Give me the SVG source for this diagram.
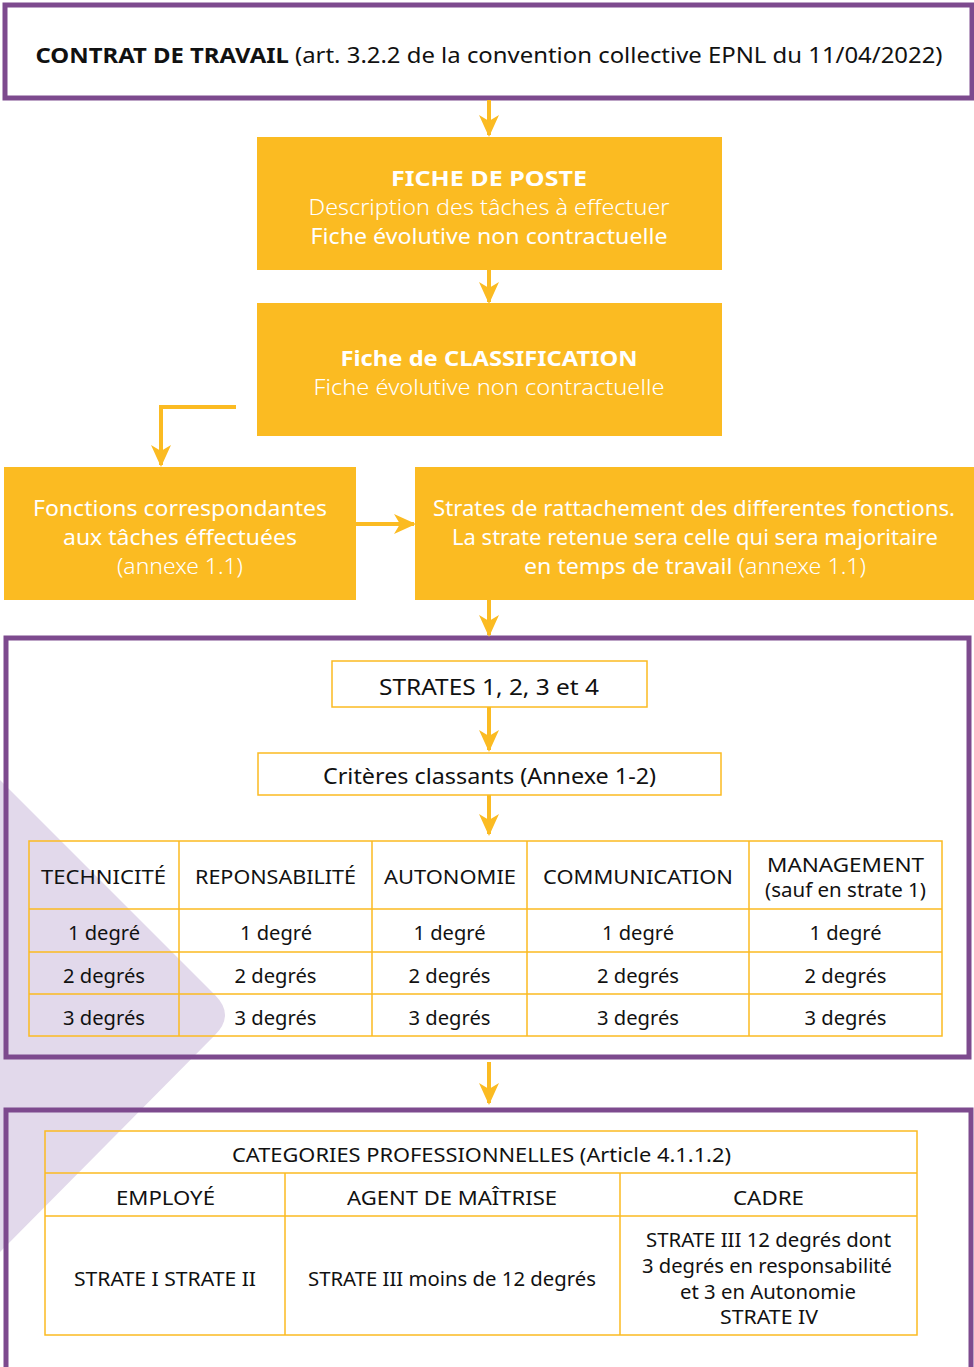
<svg xmlns="http://www.w3.org/2000/svg" width="974" height="1367" viewBox="0 0 974 1367">
<style>
text{font-family:"Noto Sans","Open Sans","Liberation Sans",sans-serif;}
.frame{fill:none;stroke:#7d4a8e;stroke-width:5}
.ob{fill:#fbbb22}
.wt{fill:#fff;font-size:22px;text-anchor:middle}
.b{font-weight:700}
.l{font-weight:300}
.box{fill:#fff;stroke:#fbbb22;stroke-width:1.5}
.cell{fill:none;stroke:#fbbb22;stroke-width:1.5}
.bt{fill:#111;font-size:21.5px;text-anchor:middle}
.tt{fill:#111;font-size:20px;text-anchor:middle}
.con{fill:none;stroke:#fbbb22;stroke-width:4}
</style>
<defs>
<marker id="ah2" markerWidth="22" markerHeight="20" refX="20" refY="10" orient="auto" markerUnits="userSpaceOnUse" viewBox="0 0 22 20">
<path d="M0,0 L22,10 L0,20 L6,10 z" fill="#fbbb22"/>
</marker>
</defs>
<rect width="974" height="1367" fill="#fff"/>
<path id="bgshape" d="M0,780 L215,995 Q235,1015 215,1035 L0,1252 z" fill="#e2d9eb"/>

<g id="n-contrat">
<rect class="frame" x="5" y="5" width="967" height="93"/>
<text x="489" y="63" fill="#111" font-size="22" text-anchor="middle" textLength="907" lengthAdjust="spacingAndGlyphs"><tspan class="b">CONTRAT DE TRAVAIL</tspan> (art. 3.2.2 de la convention collective EPNL du 11/04/2022)</text>
</g>

<g id="n-fiche-poste">
<rect class="ob" x="257" y="137" width="465" height="133"/>
<text class="wt b" x="489" y="186" textLength="196" lengthAdjust="spacingAndGlyphs">FICHE DE POSTE</text>
<text class="wt l" x="489" y="215" textLength="361" lengthAdjust="spacingAndGlyphs">Description des tâches à effectuer</text>
<text class="wt" x="489" y="244" textLength="357" lengthAdjust="spacingAndGlyphs">Fiche évolutive non contractuelle</text>
</g>

<g id="n-classification">
<rect class="ob" x="257" y="303" width="465" height="133"/>
<text class="wt b" x="489" y="366" textLength="297" lengthAdjust="spacingAndGlyphs">Fiche de CLASSIFICATION</text>
<text class="wt l" x="489" y="395" textLength="351" lengthAdjust="spacingAndGlyphs">Fiche évolutive non contractuelle</text>
</g>

<g id="n-fonctions">
<rect class="ob" x="4" y="467" width="352" height="133"/>
<text class="wt" x="180" y="516" textLength="294" lengthAdjust="spacingAndGlyphs">Fonctions correspondantes</text>
<text class="wt" x="180" y="545" textLength="234" lengthAdjust="spacingAndGlyphs">aux tâches éffectuées</text>
<text class="wt l" x="180" y="574" textLength="126" lengthAdjust="spacingAndGlyphs">(annexe 1.1)</text>
</g>

<g id="n-strates-rattachement">
<rect class="ob" x="415" y="467" width="559" height="133"/>
<text class="wt" x="694" y="516" textLength="522" lengthAdjust="spacingAndGlyphs">Strates de rattachement des differentes fonctions.</text>
<text class="wt" x="695" y="545" textLength="486" lengthAdjust="spacingAndGlyphs">La strate retenue sera celle qui sera majoritaire</text>
<text class="wt" x="695" y="574" textLength="342" lengthAdjust="spacingAndGlyphs">en temps de travail <tspan class="l">(annexe 1.1)</tspan></text>
</g>

<g id="n-criteres-frame">
<rect class="frame" x="6" y="638" width="963" height="419"/>
</g>

<g id="n-strates">
<rect class="box" x="332" y="661" width="315" height="46"/>
<text class="bt" x="489" y="695" textLength="220" lengthAdjust="spacingAndGlyphs">STRATES 1, 2, 3 et 4</text>
</g>

<g id="n-criteres">
<rect class="box" x="258" y="753" width="463" height="42"/>
<text class="bt" x="489.5" y="784" textLength="333" lengthAdjust="spacingAndGlyphs">Critères classants (Annexe 1-2)</text>
</g>

<g id="n-table-criteres">
<rect class="cell" x="29" y="841" width="913" height="195"/>
<path class="cell" d="M29,909 H942 M29,952 H942 M29,994 H942 M179,841 V1036 M372,841 V1036 M527,841 V1036 M749,841 V1036"/>
<g class="tt">
<text x="103.5" y="884" textLength="125" lengthAdjust="spacingAndGlyphs">TECHNICITÉ</text>
<text x="275.5" y="884" textLength="161" lengthAdjust="spacingAndGlyphs">REPONSABILITÉ</text>
<text x="450" y="884" textLength="132" lengthAdjust="spacingAndGlyphs">AUTONOMIE</text>
<text x="638" y="884" textLength="190" lengthAdjust="spacingAndGlyphs">COMMUNICATION</text>
<text x="845.5" y="872" textLength="157" lengthAdjust="spacingAndGlyphs">MANAGEMENT</text>
<text x="845.5" y="897" textLength="161" lengthAdjust="spacingAndGlyphs">(sauf en strate 1)</text>
<text x="104" y="940" textLength="72" lengthAdjust="spacingAndGlyphs">1 degré</text>
<text x="276" y="940" textLength="72" lengthAdjust="spacingAndGlyphs">1 degré</text>
<text x="449.5" y="940" textLength="72" lengthAdjust="spacingAndGlyphs">1 degré</text>
<text x="638" y="940" textLength="72" lengthAdjust="spacingAndGlyphs">1 degré</text>
<text x="845.5" y="940" textLength="72" lengthAdjust="spacingAndGlyphs">1 degré</text>
<text x="104" y="983" textLength="82" lengthAdjust="spacingAndGlyphs">2 degrés</text>
<text x="275.5" y="983" textLength="82" lengthAdjust="spacingAndGlyphs">2 degrés</text>
<text x="449.5" y="983" textLength="82" lengthAdjust="spacingAndGlyphs">2 degrés</text>
<text x="638" y="983" textLength="82" lengthAdjust="spacingAndGlyphs">2 degrés</text>
<text x="845.5" y="983" textLength="82" lengthAdjust="spacingAndGlyphs">2 degrés</text>
<text x="104" y="1025" textLength="82" lengthAdjust="spacingAndGlyphs">3 degrés</text>
<text x="275.5" y="1025" textLength="82" lengthAdjust="spacingAndGlyphs">3 degrés</text>
<text x="449.5" y="1025" textLength="82" lengthAdjust="spacingAndGlyphs">3 degrés</text>
<text x="638" y="1025" textLength="82" lengthAdjust="spacingAndGlyphs">3 degrés</text>
<text x="845.5" y="1025" textLength="82" lengthAdjust="spacingAndGlyphs">3 degrés</text>
</g>
</g>

<g id="n-categories-frame">
<rect class="frame" x="6" y="1110" width="965" height="270"/>
</g>

<g id="n-categories">
<rect class="cell" x="45" y="1131" width="872" height="204"/>
<path class="cell" d="M45,1173 H917 M45,1216 H917 M285,1173 V1335 M620,1173 V1335"/>
<g class="tt">
<text x="481.5" y="1162" textLength="499" lengthAdjust="spacingAndGlyphs">CATEGORIES PROFESSIONNELLES (Article 4.1.1.2)</text>
<text x="165.5" y="1205" textLength="99" lengthAdjust="spacingAndGlyphs">EMPLOYÉ</text>
<text x="452" y="1205" textLength="210" lengthAdjust="spacingAndGlyphs">AGENT DE MAÎTRISE</text>
<text x="768.5" y="1205" textLength="71" lengthAdjust="spacingAndGlyphs">CADRE</text>
<text x="165" y="1286" textLength="182" lengthAdjust="spacingAndGlyphs">STRATE I STRATE II</text>
<text x="452" y="1286" textLength="288" lengthAdjust="spacingAndGlyphs">STRATE III moins de 12 degrés</text>
<text x="768.5" y="1247" textLength="245" lengthAdjust="spacingAndGlyphs">STRATE III 12 degrés dont</text>
<text x="767" y="1273" textLength="250" lengthAdjust="spacingAndGlyphs">3 degrés en responsabilité</text>
<text x="768" y="1299" textLength="176" lengthAdjust="spacingAndGlyphs">et 3 en Autonomie</text>
<text x="769" y="1324" textLength="98" lengthAdjust="spacingAndGlyphs">STRATE IV</text>
</g>
</g>

<g id="connectors">
<line class="con" x1="489" y1="100" x2="489" y2="135" marker-end="url(#ah2)"/>
<line class="con" x1="489" y1="270" x2="489" y2="302" marker-end="url(#ah2)"/>
<polyline class="con" points="236,407 161,407 161,465" marker-end="url(#ah2)"/>
<line class="con" x1="356" y1="524" x2="414" y2="524" marker-end="url(#ah2)"/>
<line class="con" x1="489" y1="600" x2="489" y2="635" marker-end="url(#ah2)"/>
<line class="con" x1="489" y1="707" x2="489" y2="750" marker-end="url(#ah2)"/>
<line class="con" x1="489" y1="795" x2="489" y2="834" marker-end="url(#ah2)"/>
<line class="con" x1="489" y1="1062" x2="489" y2="1103" marker-end="url(#ah2)"/>
</g>
</svg>
